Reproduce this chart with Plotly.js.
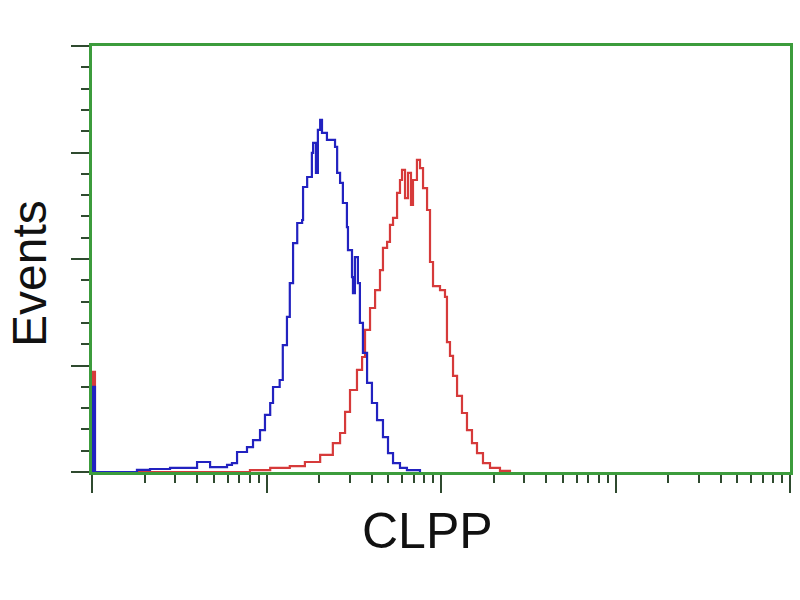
<!DOCTYPE html>
<html>
<head>
<meta charset="utf-8">
<script src="https://cdn.plot.ly/plotly-3.0.1.min.js"></script>
<style>html,body{margin:0;padding:0;background:#fff;}#chart{width:800px;height:600px;}</style>
</head>
<body>
<div id="chart"></div>
<script>
// Fluorescence intensity (CLPP channel) and event counts
const controlX = [1.01, 1.01, 1.04, 1.81, 2.15, 2.80, 4.00, 4.75, 5.94, 6.34, 6.78, 7.73, 8.37, 9.18, 9.80, 10.5, 10.9, 11.9, 12.4, 13.1, 13.6, 14.2, 15.0, 16.0, 16.2, 17.1, 18.2, 18.5, 19.2, 19.7, 20.3, 20.8, 22.2, 24.7, 25.4, 26.4, 27.4, 28.9, 29.3, 30.9, 31.3, 32.1, 33.4, 34.3, 35.7, 37.7, 40.2, 43.0, 46.5, 49.7, 53.1, 58.2, 63.8, 75.8];
const controlY = [0, 40, 0, 1, 1.4, 1.9, 4.7, 2.3, 3.3, 4.2, 9.4, 11.7, 15.0, 19.7, 26.8, 32.4, 39.9, 43.2, 59.6, 72.8, 88.7, 107.5, 116.9, 118.3, 133.8, 138.5, 149.8, 154.5, 140.4, 160.6, 165.3, 159.2, 155.9, 152.6, 140.4, 135.7, 126.3, 115.0, 104.2, 91.5, 84.0, 100.9, 88.7, 70.0, 55.9, 41.8, 32.4, 24.4, 16.4, 8.9, 4.2, 1.9, 0.9, 0];

const clppX = [1.01, 1.01, 1.04, 8.04, 10.5, 13.6, 16.6, 20.3, 24.0, 26.4, 28.2, 30.1, 33.0, 35.3, 36.7, 39.2, 41.9, 44.7, 46.5, 49.1, 51.0, 53.1, 56.0, 58.2, 59.8, 62.2, 64.7, 67.3, 69.1, 72.8, 75.8, 78.9, 83.2, 86.5, 90.0, 98.7, 105.4, 108.2, 112.6, 117.2, 123.6, 131.9, 140.9, 150.5, 160.8, 174.0, 190.9, 217.8, 248.5];
const clppY = [0, 47, 0, 0.9, 1.9, 2.8, 4.7, 8.0, 13.6, 18.3, 28.2, 38.5, 47.9, 54.0, 66.7, 77.0, 85.4, 94.8, 105.2, 108.0, 116.0, 119.3, 131.0, 137.1, 141.8, 128.6, 140.4, 125.4, 137.1, 146.5, 142.7, 133.3, 123.0, 98.6, 87.3, 85.4, 82.2, 61.0, 54.5, 45.1, 35.7, 27.7, 19.7, 13.6, 8.9, 4.2, 1.9, 0.5, 0];

const xTitle = 'CLPP';
const yTitle = 'Events';

const traces = [
  {x: clppX, y: clppY, type: 'scatter', mode: 'lines', name: 'CLPP',
   line: {color: '#d63a3a', width: 2.2, shape: 'hv'}, hoverinfo: 'x+y'},
  {x: controlX, y: controlY, type: 'scatter', mode: 'lines', name: 'Control',
   line: {color: '#2222c0', width: 2.2, shape: 'hv'}, hoverinfo: 'x+y'}
];

const axisGreen = '#3c9c3c';
const tickCol = '#2f4a2f';

const layout = {
  width: 800, height: 600,
  paper_bgcolor: '#ffffff', plot_bgcolor: '#ffffff',
  showlegend: false,
  margin: {l: 92, r: 10, t: 46, b: 128},
  font: {family: 'Liberation Sans, Arial, sans-serif', color: '#111'},
  xaxis: {
    type: 'log', range: [0, 4], dtick: 1,
    showgrid: false, zeroline: false,
    showline: true, linecolor: axisGreen, linewidth: 3, mirror: true,
    ticks: 'outside', ticklen: 18, tickwidth: 2, tickcolor: tickCol,
    showticklabels: false,
    minor: {dtick: 'D1', ticks: 'outside', ticklen: 8, tickwidth: 2, tickcolor: tickCol, showgrid: false},
    automargin: false
  },
  yaxis: {
    range: [0, 200], dtick: 50,
    showgrid: false, zeroline: false,
    showline: true, linecolor: axisGreen, linewidth: 3, mirror: true,
    ticks: 'outside', ticklen: 18, tickwidth: 2, tickcolor: tickCol,
    showticklabels: false,
    minor: {dtick: 10, ticks: 'outside', ticklen: 8, tickwidth: 2, tickcolor: tickCol, showgrid: false},
    automargin: false
  },
  annotations: [
    {text: xTitle, xref: 'paper', yref: 'paper', x: 0.481, y: -0.1385,
     xanchor: 'center', yanchor: 'middle', showarrow: false,
     font: {size: 50, color: '#111'}},
    {text: yTitle, xref: 'paper', yref: 'paper', x: -0.0903, y: 0.467,
     xanchor: 'center', yanchor: 'middle', showarrow: false, textangle: -90,
     font: {size: 48, color: '#111'}}
  ]
};

Plotly.newPlot('chart', traces, layout, {displayModeBar: false, staticPlot: true});
</script>
</body>
</html>
